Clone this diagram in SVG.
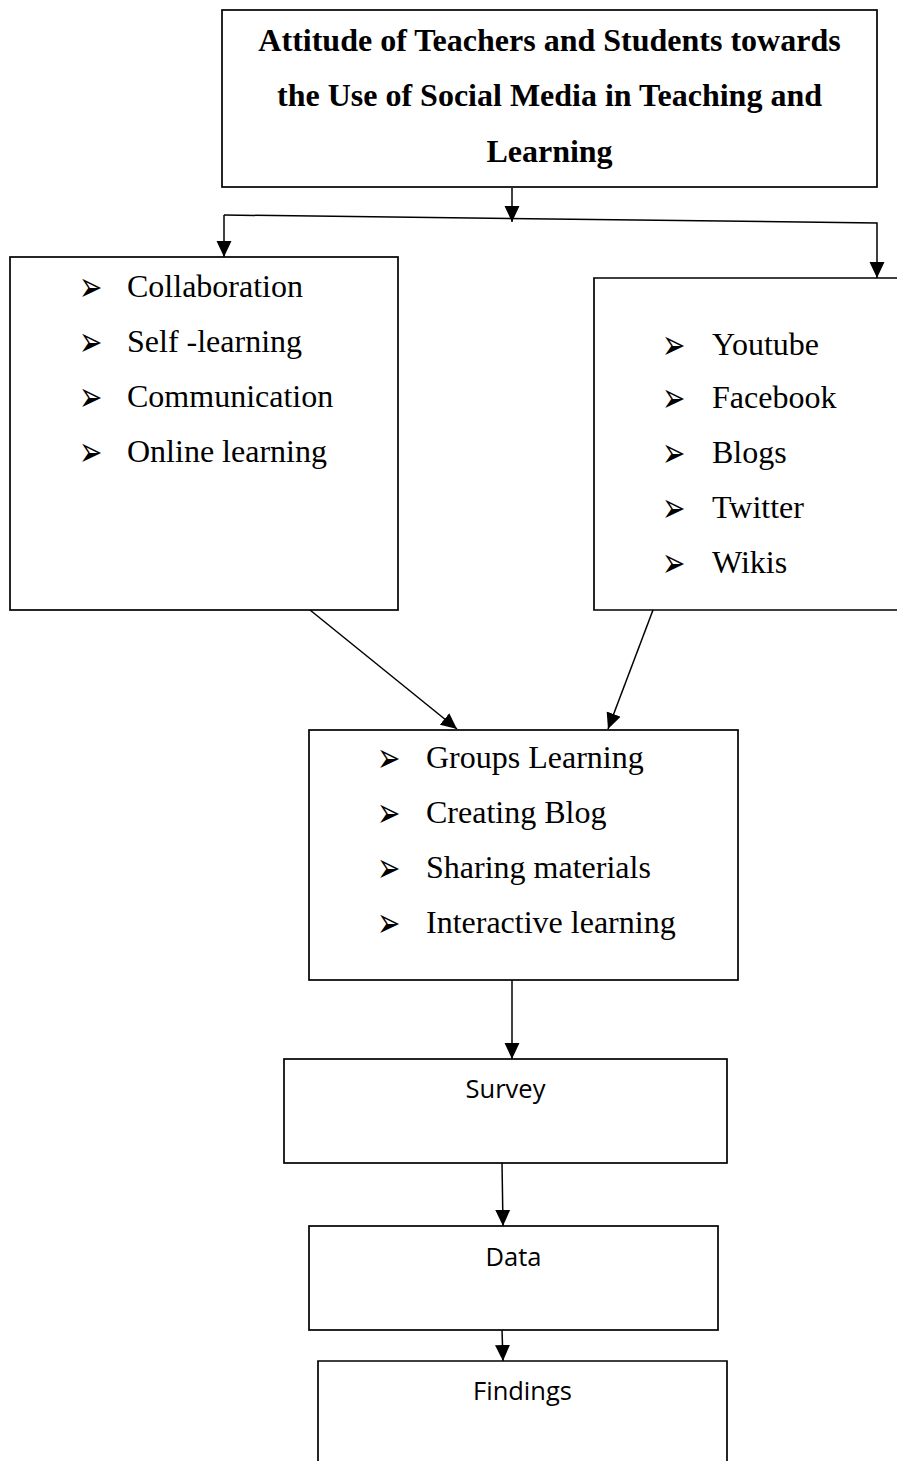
<svg xmlns="http://www.w3.org/2000/svg" width="897" height="1461" viewBox="0 0 897 1461">
  <style>
    .box { fill: #fff; stroke: #000; stroke-width: 1.7; }
    .open { fill: none; stroke: #000; stroke-width: 1.7; }
    .link { fill: none; stroke: #000; stroke-width: 1.5; }
    .title { font-family: "Liberation Serif", "Times New Roman", serif; font-weight: bold; font-size: 32px; fill: #000; text-anchor: middle; }
    .item { font-family: "Liberation Serif", "Times New Roman", serif; font-size: 32px; fill: #000; }
    .bullet { font-family: "DejaVu Sans", sans-serif; font-size: 31px; fill: #000; }
    .label { font-family: "Open Sans", "Liberation Sans", sans-serif; font-size: 25.5px; fill: #000; text-anchor: middle; }
  </style>
  <defs>
    <marker id="arrow" markerUnits="userSpaceOnUse" markerWidth="16" markerHeight="16" viewBox="0 0 15 14" refX="15" refY="7" orient="auto">
      <path d="M0,0 L15,7 L0,14 Z" fill="#000"/>
    </marker>
  </defs>

  <!-- connectors -->
  <g id="connectors">
    <line class="link" x1="512" y1="188" x2="512" y2="222" marker-end="url(#arrow)"/>
    <polyline class="link" points="224,215 877,223 877,278" marker-end="url(#arrow)"/>
    <polyline class="link" points="224,215 224,257" marker-end="url(#arrow)"/>
    <line class="link" x1="310" y1="610" x2="457" y2="729" marker-end="url(#arrow)"/>
    <line class="link" x1="653" y1="610" x2="608" y2="729" marker-end="url(#arrow)"/>
    <line class="link" x1="512" y1="980" x2="512" y2="1059" marker-end="url(#arrow)"/>
    <line class="link" x1="502" y1="1163" x2="503" y2="1226" marker-end="url(#arrow)"/>
    <line class="link" x1="502" y1="1330" x2="503" y2="1361" marker-end="url(#arrow)"/>
  </g>

  <!-- title -->
  <g id="node-title">
    <rect class="box" x="222" y="10" width="655" height="177"/>
    <text class="title" x="549.5" y="51">Attitude of Teachers and Students towards</text>
    <text class="title" x="549.5" y="106">the Use of Social Media in Teaching and</text>
    <text class="title" x="549.5" y="162">Learning</text>
  </g>

  <!-- purposes -->
  <g id="node-purposes">
    <rect class="box" x="10" y="257" width="388" height="353"/>
    <text class="bullet" transform="translate(79,300.5) scale(0.9,1.35)">➢</text>
    <text class="item" x="127" y="297">Collaboration</text>
    <text class="bullet" transform="translate(79,355.5) scale(0.9,1.35)">➢</text>
    <text class="item" x="127" y="352">Self -learning</text>
    <text class="bullet" transform="translate(79,410.5) scale(0.9,1.35)">➢</text>
    <text class="item" x="127" y="407">Communication</text>
    <text class="bullet" transform="translate(79,465.5) scale(0.9,1.35)">➢</text>
    <text class="item" x="127" y="462">Online learning</text>
  </g>

  <!-- platforms -->
  <g id="node-platforms">
    <path class="open" d="M905,278 L594,278 L594,610 L905,610"/>
    <text class="bullet" transform="translate(662,358.5) scale(0.9,1.35)">➢</text>
    <text class="item" x="712" y="355">Youtube</text>
    <text class="bullet" transform="translate(662,411.5) scale(0.9,1.35)">➢</text>
    <text class="item" x="712" y="408">Facebook</text>
    <text class="bullet" transform="translate(662,466.5) scale(0.9,1.35)">➢</text>
    <text class="item" x="712" y="463">Blogs</text>
    <text class="bullet" transform="translate(662,521.5) scale(0.9,1.35)">➢</text>
    <text class="item" x="712" y="518">Twitter</text>
    <text class="bullet" transform="translate(662,576.5) scale(0.9,1.35)">➢</text>
    <text class="item" x="712" y="573">Wikis</text>
  </g>

  <!-- activities -->
  <g id="node-activities">
    <rect class="box" x="309" y="730" width="429" height="250"/>
    <text class="bullet" transform="translate(377,771.5) scale(0.9,1.35)">➢</text>
    <text class="item" x="426" y="768">Groups Learning</text>
    <text class="bullet" transform="translate(377,826.5) scale(0.9,1.35)">➢</text>
    <text class="item" x="426" y="823">Creating Blog</text>
    <text class="bullet" transform="translate(377,881.5) scale(0.9,1.35)">➢</text>
    <text class="item" x="426" y="878">Sharing materials</text>
    <text class="bullet" transform="translate(377,936.5) scale(0.9,1.35)">➢</text>
    <text class="item" x="426" y="933">Interactive learning</text>
  </g>

  <g id="node-survey">
    <rect class="box" x="284" y="1059" width="443" height="104"/>
    <text class="label" x="505.5" y="1098">Survey</text>
  </g>

  <g id="node-data">
    <rect class="box" x="309" y="1226" width="409" height="104"/>
    <text class="label" x="513.5" y="1266">Data</text>
  </g>

  <g id="node-findings">
    <path class="open" d="M318,1470 L318,1361 L727,1361 L727,1470"/>
    <text class="label" x="522.5" y="1400">Findings</text>
  </g>
</svg>
